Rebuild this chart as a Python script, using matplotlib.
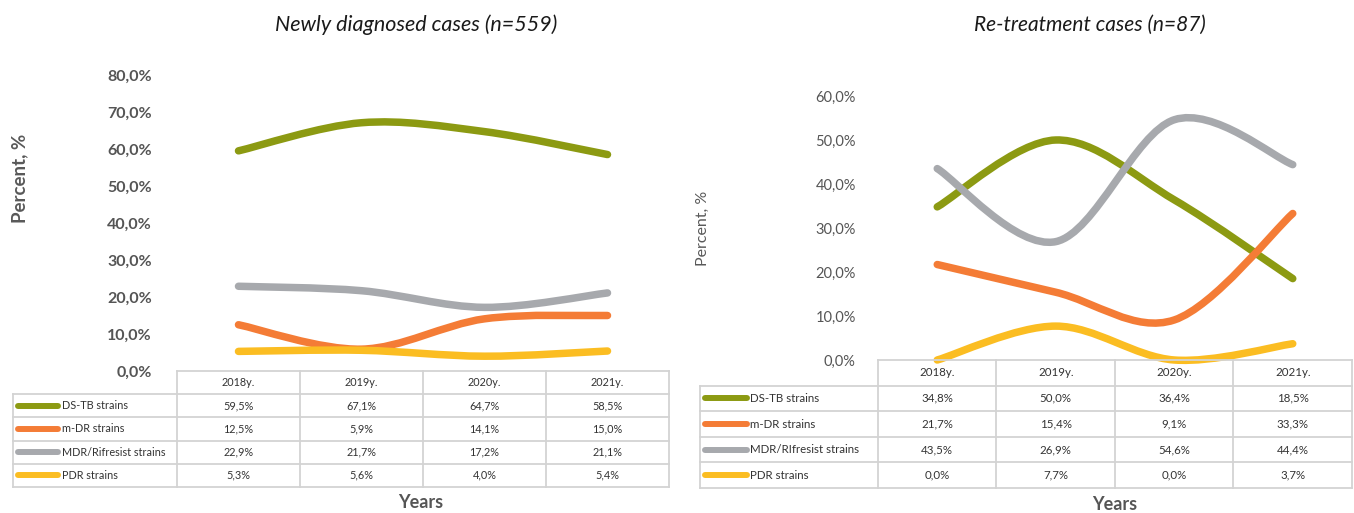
import numpy as np
import matplotlib
matplotlib.use("Agg")
import matplotlib.pyplot as plt
from matplotlib.path import Path
from matplotlib.patches import PathPatch
from matplotlib.lines import Line2D

plt.rcParams['font.family'] = ['Lato', 'DejaVu Sans']

years = ["2018y.", "2019y.", "2020y.", "2021y."]
series_names = ["DS-TB strains", "m-DR strains", "MDR/Rifresist strains", "PDR strains"]
series_names_r = ["DS-TB strains", "m-DR strains", "MDR/RIfresist strains", "PDR strains"]
colors = ["#8c9a12", "#f47c36", "#a7a9ad", "#fbbd22"]

new_ds = [59.5, 67.1, 64.7, 58.5]
new_mdr_m = [12.5, 5.9, 14.1, 15.0]
new_mdr = [22.9, 21.7, 17.2, 21.1]
new_pdr = [5.3, 5.6, 4.0, 5.4]

re_ds = [34.8, 50.0, 36.4, 18.5]
re_mdr_m = [21.7, 15.4, 9.1, 33.3]
re_mdr = [43.5, 26.9, 54.6, 44.4]
re_pdr = [0.0, 7.7, 0.0, 3.7]

W, H = 1354, 513
fig = plt.figure(figsize=(W / 100, H / 100), dpi=100)


def rect(x0, y0, x1, y1):
    return [x0 / W, 1 - y1 / H, (x1 - x0) / W, (y1 - y0) / H]


def smooth_path(xs, ys):
    xs = np.asarray(xs, float)
    ys = np.asarray(ys, float)
    P = np.column_stack([xs, ys])
    n = len(P)
    verts = [P[0]]
    codes = [Path.MOVETO]
    for i in range(n - 1):
        p_prev = P[i - 1] if i > 0 else P[i]
        p_next2 = P[i + 2] if i + 2 < n else P[i + 1]
        c1 = P[i] + (P[i + 1] - p_prev) / 6.0
        c2 = P[i + 1] - (p_next2 - P[i]) / 6.0
        verts += [c1, c2, P[i + 1]]
        codes += [Path.CURVE4] * 3
    return Path(verts, codes)


def panel(plot_px, table_rows_px, label_left, key_px, text_x, data, names, ymax,
          tick_fs, tick_weight, tick_pad, title, title_xy, title_fs, ylab_xy, ylab_fs,
          ylab_weight, years_xy, table_fs):
    x0, ytop, x1, y0 = plot_px
    ax = fig.add_axes(rect(x0, ytop, x1, y0))
    ax.set_xlim(-0.5, 3.5)
    ax.set_ylim(0, ymax)
    for s in ax.spines.values():
        s.set_visible(False)
    ax.set_xticks([])
    ax.set_yticks(np.arange(0, ymax + 0.1, 10))
    ax.set_yticklabels([f"{v:.1f}%".replace(".", ",") for v in np.arange(0, ymax + 0.1, 10)],
                       fontsize=tick_fs, color="#555555", fontweight=tick_weight)
    ax.tick_params(axis='y', length=0, pad=tick_pad)
    xs = np.arange(len(years))
    for vals, c in zip(data, colors):
        pp = PathPatch(smooth_path(xs, vals), facecolor='none', edgecolor=c, lw=5.4,
                       capstyle='round', joinstyle='round', clip_on=False)
        ax.add_patch(pp)

    # table
    r = table_rows_px
    tax = fig.add_axes(rect(x0, r[0], x1, r[-1]))
    tax.set_xlim(-0.5, 3.5)
    tax.set_ylim(5, 0)
    tax.axis('off')
    gc = "#d3d3d3"
    tlw = 1.3
    upx = (x1 - x0) / 4.0
    lx = (label_left - x0) / upx - 0.5
    k0 = (key_px[0] - x0) / upx - 0.5
    k1 = (key_px[1] - x0) / upx - 0.5
    tx = (text_x - x0) / upx - 0.5
    tax.plot([-0.5, 3.5], [0, 0], color=gc, lw=tlw, clip_on=False)
    for j in range(1, 6):
        tax.plot([lx, 3.5], [j, j], color=gc, lw=tlw, clip_on=False)
    for cx in [-0.5, 0.5, 1.5, 2.5, 3.5]:
        tax.plot([cx, cx], [0, 5], color=gc, lw=tlw, clip_on=False)
    tax.plot([lx, lx], [1, 5], color=gc, lw=tlw, clip_on=False)
    for i, yl in enumerate(years):
        tax.text(i, 0.5, yl, ha='center', va='center', fontsize=table_fs, color="#333333")
    for j, (vals, name, c) in enumerate(zip(data, names, colors)):
        yy = j + 1.5
        tax.add_line(Line2D([k0, k1], [yy, yy], color=c, lw=4.3, solid_capstyle='round',
                            clip_on=False))
        tax.text(tx, yy, name, ha='left', va='center', fontsize=table_fs, color="#333333",
                 clip_on=False)
        for i, v in enumerate(vals):
            tax.text(i, yy, f"{v:.1f}%".replace(".", ","), ha='center', va='center',
                     fontsize=table_fs, color="#333333")

    fig.text(title_xy[0] / W, 1 - title_xy[1] / H, title, ha='center', va='center',
             fontsize=title_fs, style='italic', color="#1a1a1a", fontweight='normal')
    fig.text(ylab_xy[0] / W, 1 - ylab_xy[1] / H, "Percent, %", ha='center', va='center',
             rotation=90, fontsize=ylab_fs, color="#595959", fontweight=ylab_weight)
    fig.text(years_xy[0] / W, 1 - years_xy[1] / H, "Years", ha='center', va='center',
             fontsize=13, color="#555555", fontweight='bold')


panel(plot_px=(177, 75, 669, 371), table_rows_px=[371, 393, 416, 440, 464, 487],
      label_left=13, key_px=(18, 58), text_x=62,
      data=[new_ds, new_mdr_m, new_mdr, new_pdr], names=series_names, ymax=80,
      tick_fs=11.5, tick_weight='bold', tick_pad=18,
      title="Newly diagnosed cases (n=559)", title_xy=(416, 25), title_fs=15.5,
      ylab_xy=(20, 178), ylab_fs=13.5, ylab_weight='bold', years_xy=(421, 503), table_fs=7.8)

panel(plot_px=(878, 96, 1352, 360), table_rows_px=[360, 384, 410, 436, 462, 488],
      label_left=700, key_px=(705, 747), text_x=750,
      data=[re_ds, re_mdr_m, re_mdr, re_pdr], names=series_names_r, ymax=60,
      tick_fs=10.5, tick_weight='normal', tick_pad=16,
      title="Re-treatment cases (n=87)", title_xy=(1090, 25), title_fs=15,
      ylab_xy=(703, 228), ylab_fs=11.5, ylab_weight='normal', years_xy=(1115, 505), table_fs=8.3)

fig.savefig("out.png", dpi=100, facecolor="white")
